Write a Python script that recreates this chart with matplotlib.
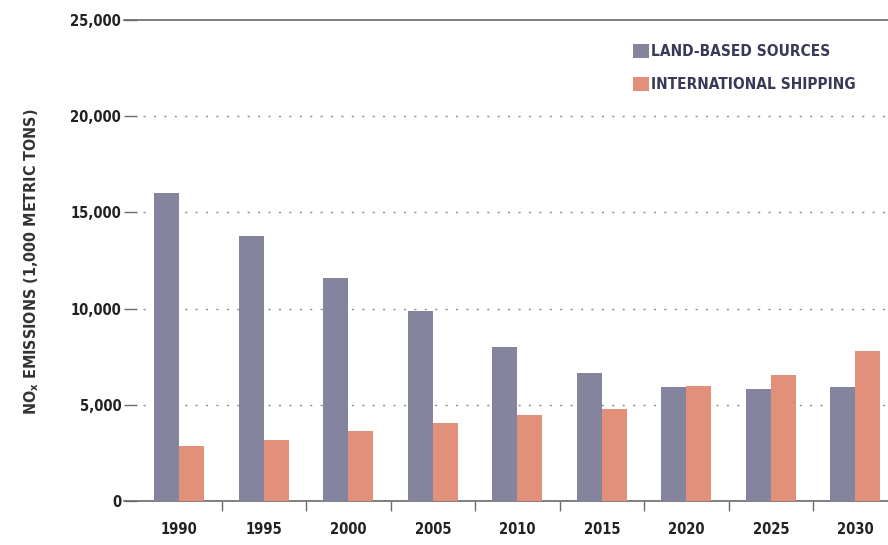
import numpy as np
import matplotlib
matplotlib.use("Agg")
import matplotlib.pyplot as plt
from matplotlib import font_manager
from matplotlib.ticker import FuncFormatter

# ---- data ----
years = ["1990", "1995", "2000", "2005", "2010", "2015", "2020", "2025", "2030"]
land_based = [16030, 13750, 11570, 9900, 8020, 6660, 5910, 5830, 5910]
shipping = [2850, 3180, 3660, 4070, 4470, 4790, 6000, 6570, 7780]

LAND_COLOR = "#85849F"
SHIP_COLOR = "#E2907A"
TEXT_COLOR = "#222222"
AXIS_COLOR = "#6a6a6a"

# pick a narrow font if one is around
names = {f.name for f in font_manager.fontManager.ttflist}
condensed = [f for f in font_manager.fontManager.ttflist
             if f.name == "DejaVu Sans" and f.stretch in ("condensed", 87.5, 75)]
if "Liberation Sans Narrow" in names:
    FAMILY = "Liberation Sans Narrow"
    SCALE = 1.0
elif condensed:
    FAMILY = "DejaVu Sans"
    plt.rcParams["font.stretch"] = "condensed"
    SCALE = 0.92
else:
    FAMILY = "Roboto"
    SCALE = 0.88
plt.rcParams["font.family"] = [FAMILY, "DejaVu Sans"]
plt.rcParams["font.weight"] = "bold"
# keep the subscript in the same narrow bold face
plt.rcParams["mathtext.fontset"] = "custom"
plt.rcParams["mathtext.rm"] = f"{FAMILY}:bold"
plt.rcParams["mathtext.it"] = f"{FAMILY}:bold"
plt.rcParams["mathtext.bf"] = f"{FAMILY}:bold"
plt.rcParams["mathtext.default"] = "rm"

fig = plt.figure(figsize=(8.88, 5.45), dpi=100)
ax = fig.add_axes([124 / 888, 1 - 501 / 545, 1 - 124 / 888, (501 - 20) / 545])

x = np.arange(len(years))
w = 0.296
ax.bar(x - w / 2, land_based, width=w, color=LAND_COLOR, label="LAND-BASED SOURCES", zorder=3)
ax.bar(x + w / 2, shipping, width=w, color=SHIP_COLOR, label="INTERNATIONAL SHIPPING", zorder=3)

ax.set_xlim(-0.654, 8.387)
ax.set_ylim(0, 25000)

# y axis
ax.set_yticks([0, 5000, 10000, 15000, 20000, 25000])
ax.yaxis.set_major_formatter(FuncFormatter(lambda v, p: f"{int(v):,}"))
ax.tick_params(axis="y", direction="in", length=9, width=1, color=AXIS_COLOR,
               pad=2, labelsize=11.5 * SCALE, labelcolor=TEXT_COLOR)
for gy in [5000, 10000, 15000, 20000]:
    ax.axhline(gy, color="#8a8a8a", lw=1, ls=(0, (1.5, 6)), xmin=0.025, zorder=1)

# x axis: labels at group centres, ticks between groups
ax.set_xticks(x)
ax.set_xticklabels(years)
ax.set_xticks(x[:-1] + 0.5, minor=True)
ax.tick_params(axis="x", which="major", length=0, pad=15, labelsize=11.5 * SCALE, labelcolor=TEXT_COLOR)
ax.tick_params(axis="x", which="minor", direction="out", length=7, width=1, color=AXIS_COLOR)

for s in ["left", "right"]:
    ax.spines[s].set_visible(False)
for s in ["top", "bottom"]:
    ax.spines[s].set_color(AXIS_COLOR)
    ax.spines[s].set_linewidth(1.2)

fig.text(32 / 888, 1 - 262 / 545, r"NO$_{x}$ EMISSIONS (1,000 METRIC TONS)",
         rotation=90, ha="center", va="center", fontsize=12.5 * SCALE, color="#333333")

leg = ax.legend(loc="upper left", bbox_to_anchor=(625 / 888, 1 - 36 / 545),
                bbox_transform=fig.transFigure, frameon=False, fontsize=12 * SCALE,
                handlelength=1.05, handleheight=1.05, handletextpad=0.15,
                labelspacing=1.15, borderpad=0)
for t in leg.get_texts():
    t.set_color("#3a3a58")

fig.savefig("out.png", dpi=100)
